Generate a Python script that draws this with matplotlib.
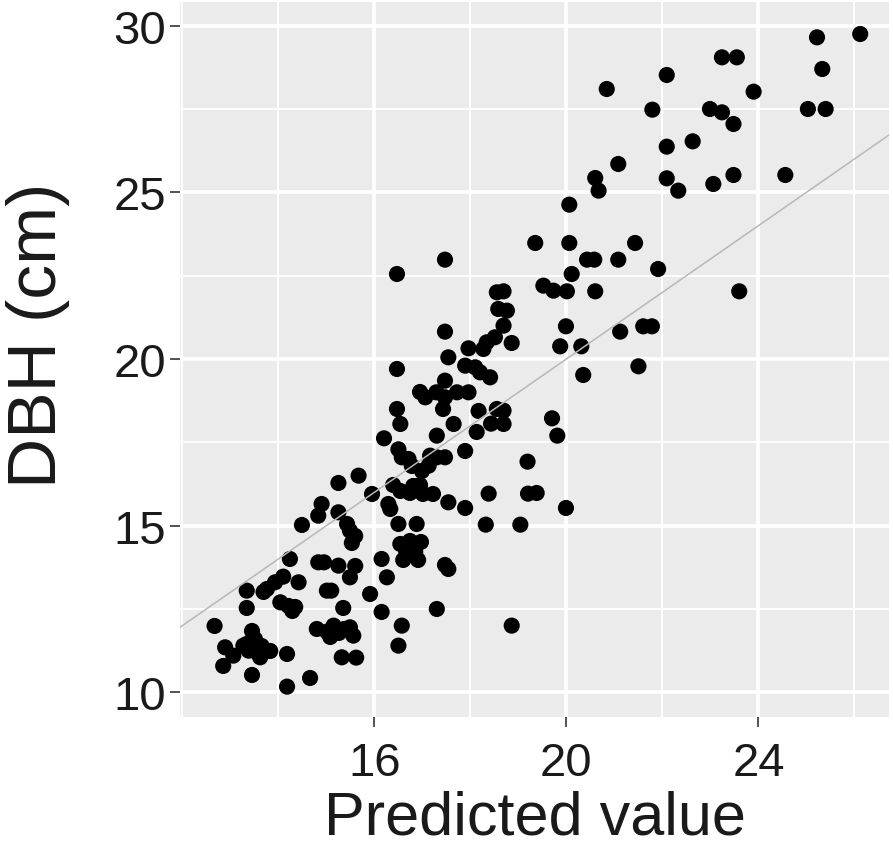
import matplotlib
matplotlib.use("Agg")
import matplotlib.pyplot as plt
from matplotlib.ticker import MultipleLocator, FixedLocator

predicted = [
    20.84, 21.79, 21.08, 20.60, 20.67, 20.06, 25.22, 26.12, 23.24, 23.55,
    22.09, 25.33, 23.90, 22.99, 23.24, 23.48, 25.03, 25.40, 22.09, 22.63,
    22.09, 22.33, 23.06, 23.48, 24.56, 19.35, 20.06, 21.43, 17.47, 20.43,
    20.58, 21.08, 21.91, 20.11, 19.52, 19.73, 20.01, 20.60, 18.55, 18.69,
    18.58, 18.76, 18.69, 17.47, 19.99, 21.12, 21.60, 21.78, 18.51, 18.34,
    18.27, 18.86, 17.96, 19.87, 20.31, 17.54, 17.89, 18.10, 18.20, 18.41,
    20.35, 21.50, 17.47, 23.60, 16.47, 16.47, 16.95, 17.06, 17.29, 17.47,
    17.72, 17.96, 17.43, 16.47, 16.54, 16.20, 17.30, 17.65, 18.17, 18.55,
    18.69, 18.43, 18.69, 18.13, 19.70, 19.81, 17.89, 16.50, 16.57, 16.71,
    16.78, 17.16, 17.30, 17.47, 16.99, 17.13, 19.19, 15.67, 15.25, 16.39,
    16.54, 16.74, 16.81, 16.95, 17.01, 17.22, 16.29, 16.33, 15.95, 17.54,
    17.89, 18.38, 19.20, 19.38, 19.99, 15.25, 15.43, 15.49, 15.60, 15.53,
    16.50, 16.88, 18.32, 19.04, 16.54, 16.74, 16.97, 16.66, 16.85, 16.60,
    16.91, 16.15, 17.47, 17.54, 14.90, 14.83, 14.49, 14.24, 14.83, 14.95,
    15.25, 15.60, 15.49, 16.26, 14.10, 13.93, 13.76, 13.69, 14.42, 13.34,
    13.34, 14.04, 14.21, 14.35, 14.29, 15.01, 15.10, 15.35, 15.91, 16.15,
    12.67, 14.80, 15.01, 15.15, 15.26, 15.37, 15.49, 15.56, 15.08, 16.57,
    16.50, 13.45, 13.51, 13.34, 13.65, 13.83, 13.55, 13.38, 13.62, 12.89,
    13.06, 13.27, 12.85, 13.45, 14.18, 15.32, 15.62, 14.66, 14.18, 17.30,
    18.86,
]
dbh = [
    28.10, 27.48, 25.85, 25.43, 25.05, 24.63, 29.65, 29.75, 29.05, 29.05,
    28.52, 28.70, 28.02, 27.50, 27.40, 27.05, 27.50, 27.50, 26.37, 26.53,
    25.42, 25.05, 25.25, 25.52, 25.52, 23.48, 23.48, 23.48, 22.98, 22.98,
    22.98, 22.98, 22.70, 22.55, 22.20, 22.05, 22.03, 22.03, 22.00, 22.03,
    21.50, 21.45, 21.00, 20.82, 20.98, 20.82, 20.98, 20.98, 20.65, 20.50,
    20.30, 20.48, 20.32, 20.38, 20.38, 20.05, 19.80, 19.75, 19.60, 19.45,
    19.52, 19.78, 19.35, 22.03, 22.55, 19.70, 19.01, 18.85, 19.00, 18.85,
    19.00, 19.00, 18.50, 18.50, 18.05, 17.62, 17.70, 18.05, 18.44, 18.50,
    18.45, 18.06, 18.05, 17.81, 18.22, 17.70, 17.24, 17.29, 17.05, 17.00,
    16.79, 17.10, 17.05, 17.05, 16.64, 16.80, 16.92, 16.50, 16.28, 16.22,
    16.04, 15.98, 16.19, 16.22, 15.95, 15.95, 15.65, 15.50, 15.95, 15.70,
    15.53, 15.96, 15.96, 15.98, 15.53, 15.40, 15.05, 14.85, 14.69, 14.48,
    15.05, 15.05, 15.03, 15.03, 14.45, 14.54, 14.51, 14.24, 14.21, 13.97,
    13.97, 14.00, 13.82, 13.70, 15.65, 15.30, 15.02, 14.00, 13.90, 13.90,
    13.80, 13.79, 13.45, 13.45, 13.47, 13.30, 13.10, 13.01, 13.30, 13.05,
    12.53, 12.70, 12.59, 12.56, 12.44, 13.05, 13.05, 12.53, 12.95, 12.41,
    11.99, 11.90, 11.82, 12.00, 11.78, 11.90, 11.95, 11.70, 11.66, 12.00,
    11.40, 11.84, 11.60, 11.45, 11.39, 11.24, 11.20, 11.25, 11.05, 11.35,
    11.10, 11.40, 10.79, 10.52, 11.15, 11.05, 11.04, 10.43, 10.17, 12.50,
    12.00,
]

x_ticks = [16, 20, 24]
y_ticks = [10, 15, 20, 25, 30]
x_label = "Predicted value"
y_label = "DBH (cm)"

plt.rcParams['font.family'] = ['Liberation Sans', 'DejaVu Sans']

fig = plt.figure(figsize=(8.93, 8.54), dpi=100)
ax = fig.add_axes([180 / 893, 1 - 718.3 / 854, (889 - 180) / 893, (718.3 - 3) / 854])
ax.set_facecolor('#EBEBEB')
for s in ax.spines.values():
    s.set_visible(False)

xlim = (11.95, 26.72)
ylim = (9.25, 30.71)
ax.set_xlim(*xlim)
ax.set_ylim(*ylim)

ax.xaxis.set_major_locator(FixedLocator(x_ticks))
ax.yaxis.set_major_locator(FixedLocator(y_ticks))
ax.xaxis.set_minor_locator(MultipleLocator(2))
ax.yaxis.set_minor_locator(MultipleLocator(2.5))

ax.grid(which='major', color='white', linewidth=2.6, zorder=0)
ax.grid(which='minor', color='white', linewidth=1.4, zorder=0)
ax.set_axisbelow(True)

ax.tick_params(axis='both', which='major', length=7, width=1.3, color='#444444',
               labelsize=34, labelcolor='#1a1a1a')
ax.tick_params(axis='x', which='major', pad=10)
ax.tick_params(axis='y', which='major', pad=3)
ax.tick_params(which='minor', length=0)

ax.scatter(predicted, dbh, s=135, color='black', edgecolors='none', zorder=2)

# 1:1 reference line
ax.plot(xlim, xlim, color='#b8b8b8', linewidth=1.1, zorder=3)

ax.set_xlabel(x_label, fontsize=44, color='#1a1a1a')
ax.set_ylabel(y_label, fontsize=50, color='#1a1a1a')
ax.xaxis.set_label_coords(0.5, -0.101)
ax.yaxis.set_label_coords(-0.155, 0.536)

fig.savefig('out.png', dpi=100)
